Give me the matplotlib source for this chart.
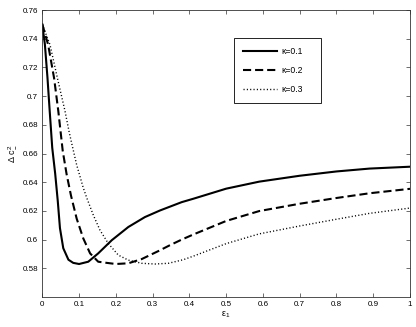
import matplotlib
matplotlib.use("Agg")
import matplotlib.pyplot as plt
import numpy as np

plt.rcParams["font.family"] = ["Liberation Sans", "DejaVu Sans"]
plt.rcParams["mathtext.default"] = "regular"

# -------------------------
# DATA
# -------------------------
eps_k1 = [0, 0.007, 0.014, 0.020, 0.027, 0.035, 0.042, 0.048, 0.057, 0.071, 0.084,
          0.100, 0.125, 0.152, 0.189, 0.234, 0.279, 0.320, 0.379, 0.411, 0.50,
          0.59, 0.70, 0.80, 0.89, 1.0]
dc_k1 = [0.750, 0.736, 0.713, 0.690, 0.664, 0.646, 0.627, 0.608, 0.594, 0.586, 0.5838,
         0.583, 0.5846, 0.5904, 0.5996, 0.6088, 0.6157, 0.6203, 0.6261, 0.6285, 0.6355,
         0.6404, 0.6445, 0.6475, 0.6495, 0.6508]

eps_k2 = [0, 0.016, 0.032, 0.0435, 0.0555, 0.066, 0.078, 0.0935, 0.1115, 0.130, 0.152,
          0.175, 0.200, 0.234, 0.270, 0.3155, 0.347, 0.379, 0.411, 0.50, 0.59, 0.70,
          0.80, 0.89, 1.0]
dc_k2 = [0.750, 0.7357, 0.7126, 0.6896, 0.6619, 0.6457, 0.6307, 0.6146, 0.6008, 0.5904,
         0.5846, 0.5838, 0.583, 0.5835, 0.5864, 0.592, 0.5961, 0.6000, 0.6036, 0.6130,
         0.6199, 0.625, 0.6290, 0.6323, 0.6354]

eps_k3 = [0, 0.021, 0.041, 0.0617, 0.073, 0.080, 0.0935, 0.1115, 0.121, 0.139, 0.157,
          0.1795, 0.2067, 0.234, 0.270, 0.3065, 0.343, 0.3835, 0.411, 0.50, 0.59,
          0.70, 0.80, 0.89, 1.0]
dc_k3 = [0.750, 0.7357, 0.7126, 0.6896, 0.675, 0.667, 0.652, 0.636, 0.629, 0.6169,
         0.6065, 0.5973, 0.5892, 0.5857, 0.5835, 0.583, 0.5835, 0.5860, 0.5885, 0.5972,
         0.6040, 0.6095, 0.6142, 0.6183, 0.622]

kappa_labels = ["κ=0.1", "κ=0.2", "κ=0.3"]

x_ticks = [0, 0.1, 0.2, 0.3, 0.4, 0.5, 0.6, 0.7, 0.8, 0.9, 1]
x_tick_labels = ["0", "0.1", "0.2", "0.3", "0.4", "0.5", "0.6", "0.7", "0.8", "0.9", "1"]
y_ticks = [0.58, 0.60, 0.62, 0.64, 0.66, 0.68, 0.70, 0.72, 0.74, 0.76]
y_tick_labels = ["0.58", "0.6", "0.62", "0.64", "0.66", "0.68", "0.7", "0.72", "0.74", "0.76"]

# -------------------------
# PLOT
# -------------------------
fig = plt.figure(figsize=(4.16, 3.27), dpi=100)
ax = fig.add_axes([0.1017, 0.0917, 0.8839, 0.8777])

ax.plot(eps_k1, dc_k1, color="black", lw=1.5, linestyle="-", label=kappa_labels[0])
ax.plot(eps_k2, dc_k2, color="black", lw=1.5, dashes=(3.9, 1.9), label=kappa_labels[1])
ax.plot(eps_k3, dc_k3, color="black", lw=1.0, dashes=(0.8, 1.6), label=kappa_labels[2])

ax.set_xlim(0, 1)
ax.set_ylim(0.56, 0.76)
ax.set_xticks(x_ticks)
ax.set_xticklabels(x_tick_labels)
ax.set_yticks(y_ticks)
ax.set_yticklabels(y_tick_labels)
ax.tick_params(direction="in", length=3, width=0.5, labelsize=5.8,
               top=True, right=True, colors="#333333", labelcolor="black", pad=3)
for sp in ax.spines.values():
    sp.set_linewidth(0.6)
    sp.set_color("#333333")

ax.set_xlabel(r"$\epsilon_1$", fontsize=6.5, labelpad=1)
ax.set_ylabel(r"$\Delta\ c_{-}^{2}$", fontsize=6.5, labelpad=3)

# legend box spans roughly x 234..321 px, y 38..101 px in the reference
leg = ax.legend(loc="upper left", bbox_to_anchor=(0.5213, 0.683, 0.2366, 0.2195),
                mode="expand", fontsize=6.2, handlelength=4.0, labelspacing=1.15,
                borderpad=1.05, borderaxespad=0, handletextpad=0.5, fancybox=False,
                edgecolor="black", framealpha=1)
leg.get_frame().set_linewidth(0.6)

fig.savefig("out.png", dpi=100)
